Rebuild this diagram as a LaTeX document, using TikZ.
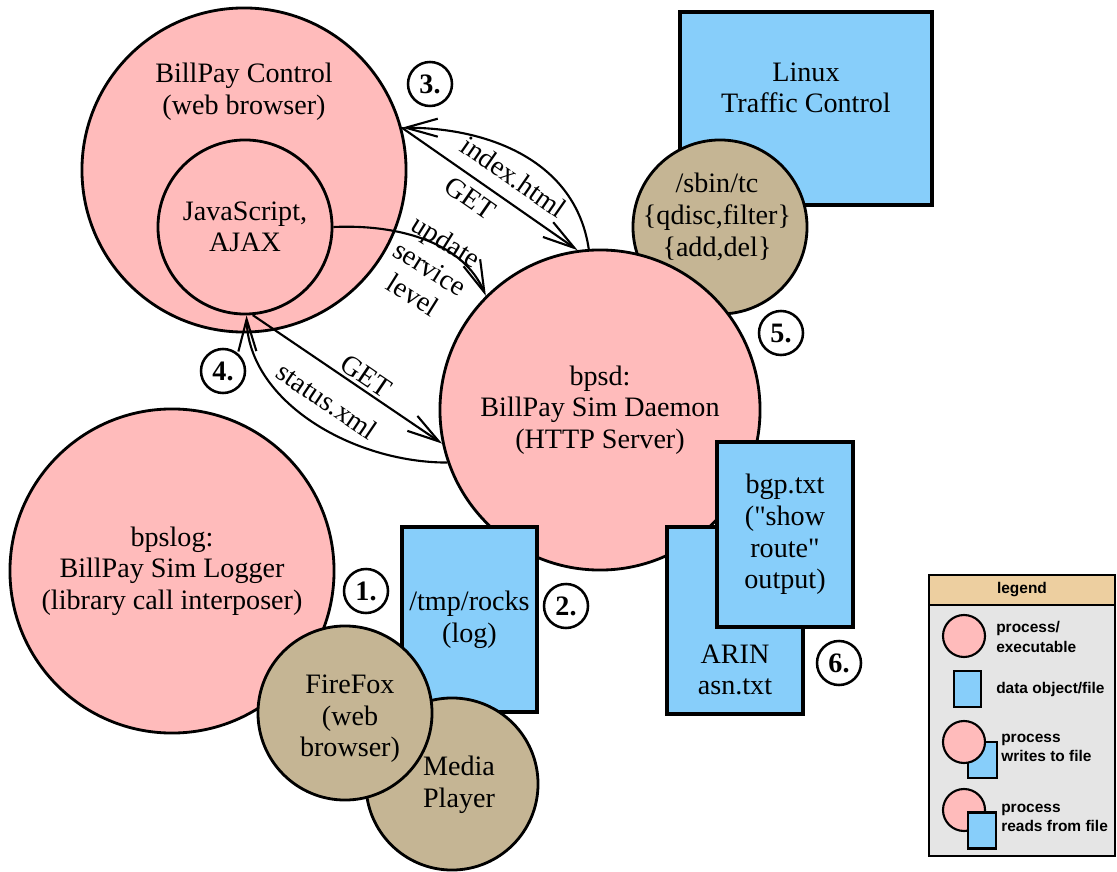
\documentclass[tikz,border=0pt]{standalone}
\usepackage{fontspec}
\setmainfont{Liberation Serif}[Ligatures=TeXOff]
\setsansfont{Liberation Sans}
\usetikzlibrary{arrows.meta}

\definecolor{procpink}{RGB}{255,187,187}
\definecolor{fileblue}{RGB}{135,206,250}
\definecolor{progtan}{RGB}{197,181,148}
\definecolor{leggrey}{RGB}{229,229,229}
\definecolor{leghead}{RGB}{237,207,160}

\tikzset{
  proc/.style={circle, draw, line width=2pt, fill=procpink, inner sep=0pt, align=center,
    font=\fontsize{20}{22.5}\selectfont},
  prog/.style={proc, fill=progtan},
  datafile/.style={rectangle, draw, line width=2.2pt, fill=fileblue, inner sep=0pt, align=center,
    font=\fontsize{20}{22.5}\selectfont},
  txt/.style={align=center, font=\fontsize{20}{22.5}\selectfont},
  stepnum/.style={circle, draw, line width=1.8pt, fill=white, minimum size=1.1cm, inner sep=0pt,
    font=\fontsize{20}{22}\selectfont\bfseries},
  msg/.style={line width=1.5pt, -{Straight Barb[length=8mm,width=4.5mm]}},
  msglabel/.style={sloped, inner sep=1pt, font=\fontsize{20}{22}\selectfont},
  legproc/.style={circle, draw, line width=1.5pt, fill=procpink, minimum size=1.05cm, inner sep=0pt},
  legfile/.style={rectangle, draw, line width=1.5pt, fill=fileblue, minimum width=0.675cm,
    minimum height=0.9cm, inner sep=0pt},
  legtxt/.style={anchor=west, align=left, inner sep=0pt, font=\fontsize{11}{14}\selectfont\sffamily\bfseries}
}

\begin{document}
\begin{tikzpicture}[x=0.025cm, y=-0.025cm]
\useasboundingbox (0,0) rectangle (1117,872);

% traffic control
\node[datafile, minimum width=6.3cm, minimum height=4.825cm] (tcbox) at (806,108.5) {};
\node[txt] (tctxt) at (806,88) {Linux\\Traffic Control};
\node[prog, minimum size=4.35cm] (tccmd) at (720,227) {};
\node[txt] (tccmdtxt) at (717,217) {/sbin/tc\\\{qdisc,filter\}\\\{add,del\}};

% browser
\node[proc, minimum size=8.1cm] (ctrl) at (244,170) {};
\node[txt] (ctrltxt) at (244,92) {BillPay Control\\(web browser)};
\node[proc, minimum size=4.35cm] (js) at (245,227) {JavaScript,\\AJAX};

% daemon
\node[proc, minimum size=8cm] (bpsd) at (600,410) {bpsd:\\BillPay Sim Daemon\\(HTTP Server)};

% files
\node[datafile, minimum width=3.375cm, minimum height=4.625cm] (rocks) at (469.5,619.5) {/tmp/rocks\\(log)};
\node[datafile, minimum width=3.4cm, minimum height=4.675cm] (arin) at (735,620.5) {};
\node[txt] (arintxt) at (735,670) {ARIN\\asn.txt};
\node[datafile, minimum width=3.4cm, minimum height=4.625cm] (bgp) at (785,534.5) {bgp.txt\\("show\\route"\\output)};

% logger
\node[proc, minimum size=8.1cm] (bpslog) at (172,571) {bpslog:\\BillPay Sim Logger\\(library call interposer)};
\node[prog, minimum size=4.3cm] (media) at (452,784) {};
\node[txt] (mediatxt) at (459,785) {Media\\Player};
\node[prog, minimum size=4.35cm] (ff) at (345,713) {};
\node[txt] (fftxt) at (350,719) {FireFox\\(web\\browser)};

% requests
\draw[msg] (bpsd.94) .. controls +(-13,-88) and +(87,0) .. (ctrl.15);
\draw[msg] (ctrl.15) -- (bpsd.98)
  node[msglabel, pos=0.56, above=8pt] {index.html}
  node[msglabel, pos=0.45, below=5pt] {GET};
\draw[msg] (js.east) .. controls +(68,-3) and +(-22,-52) .. (bpsd.135);
\node[txt, rotate=-32] (upd) at (430,268) {update\\service\\level};
\draw[msg] (js.-85) -- (bpsd.192)
  node[msglabel, pos=0.56, above=1pt] {GET}
  node[msglabel, pos=0.48, below=12pt] {status.xml};
\draw[msg] (bpsd.199) .. controls +(-95,0) and +(2,86) .. (js.-89);

% steps
\node[stepnum] (n1) at (366,591) {1.};
\node[stepnum] (n2) at (566,606) {2.};
\node[stepnum] (n3) at (430,84) {3.};
\node[stepnum] (n4) at (223,371) {4.};
\node[stepnum] (n5) at (781,333) {5.};
\node[stepnum] (n6) at (839,663) {6.};

% legend
\node[rectangle, draw, line width=1.5pt, fill=leggrey, minimum width=4.65cm, minimum height=7.025cm] (leg) at (1022,715.5) {};
\node[rectangle, draw, line width=1.5pt, fill=leghead, minimum width=4.65cm, minimum height=0.75cm, anchor=north,
  font=\fontsize{11}{14}\selectfont\sffamily\bfseries] (leghd) at (leg.north) {legend};
\node[legproc] (lp1) at (964,636) {};
\node[legtxt] (lt1) at (996,637) {process/\\executable};
\node[legfile] (lf1) at (967.5,689) {};
\node[legtxt] (lt2) at (996,689) {data object/file};
\node[legfile, minimum width=0.725cm] (lf2) at (982.5,760) {};
\node[legproc] (lp2) at (964,742) {};
\node[legtxt] (lt3) at (1001,748) {process\\writes to file};
\node[legproc] (lp3) at (964,810) {};
\node[legfile, minimum width=0.7cm] (lf3) at (982,830.5) {};
\node[legtxt] (lt4) at (1001,818) {process\\reads from file};
\end{tikzpicture}
\end{document}
